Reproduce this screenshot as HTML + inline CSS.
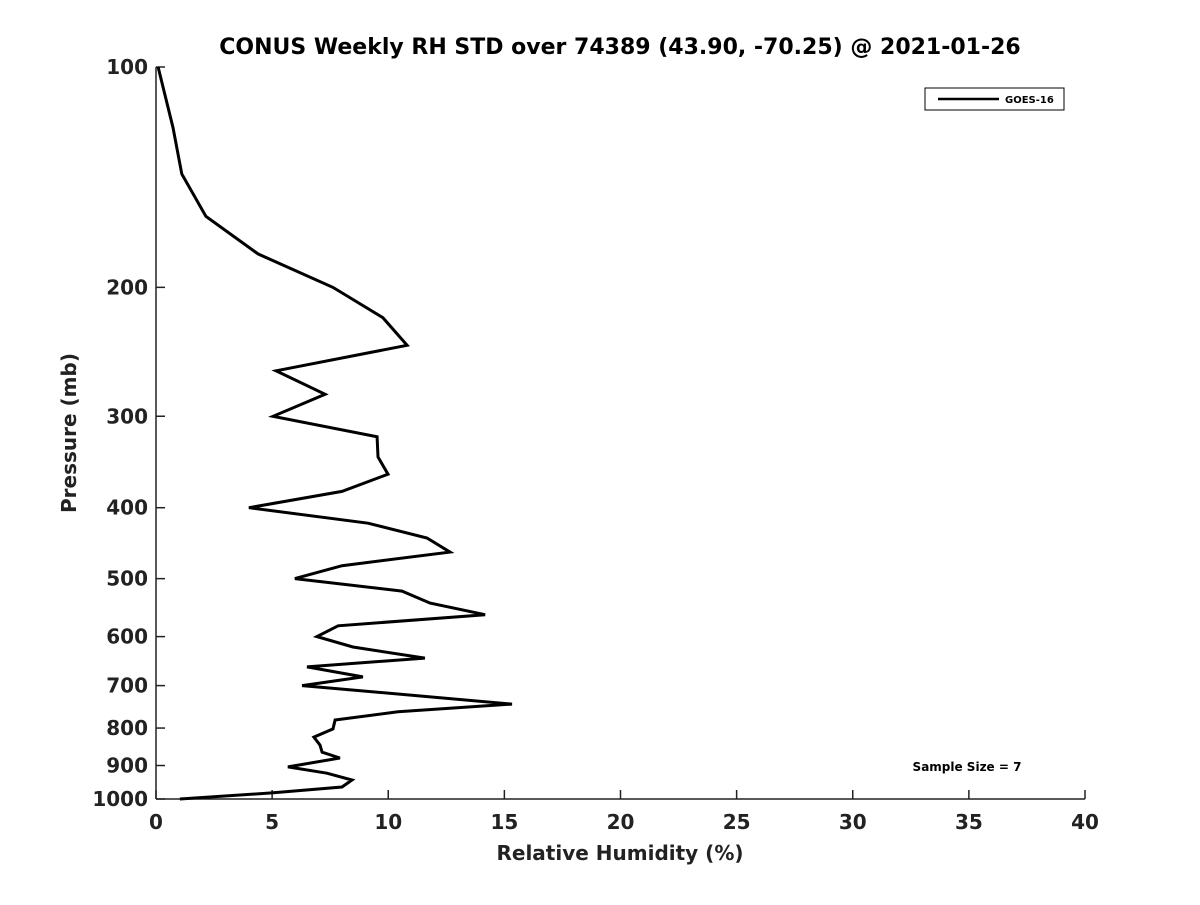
<!DOCTYPE html>
<html><head><meta charset="utf-8"><style>
body{margin:0;background:#fff;font-family:"Liberation Sans","DejaVu Sans",sans-serif}
</style></head><body>
<svg id="chart" width="1200" height="900" xmlns="http://www.w3.org/2000/svg" font-family="DejaVu Sans, Liberation Sans, sans-serif">
<text x="620" y="54" text-anchor="middle" font-size="22" font-weight="bold">CONUS Weekly RH STD over 74389 (43.90, -70.25) @ 2021-01-26</text>
<g id="axes"></g>
<g id="series"></g>
<text x="620" y="860" text-anchor="middle" font-size="20" font-weight="bold" fill="#222">Relative Humidity (%)</text>
<text transform="translate(76,433) rotate(-90)" text-anchor="middle" font-size="20" font-weight="bold" fill="#222">Pressure (mb)</text>
<g>
<rect x="925" y="88" width="139" height="22" fill="#fff" stroke="#000" stroke-width="1"/>
<line x1="938" y1="99" x2="999" y2="99" stroke="#000" stroke-width="2.5"/>
<text x="1005" y="103" font-size="10" font-weight="bold">GOES-16</text>
</g>
<text x="967" y="771" text-anchor="middle" font-size="12" font-weight="bold">Sample Size = 7</text>
</svg>
<script>
const xTicks=[0,5,10,15,20,25,30,35,40];
const yTicks=[100,200,300,400,500,600,700,800,900,1000];
const rhStd=[0.09,0.73,1.11,2.15,4.39,7.62,9.77,10.81,5.17,7.28,5.04,9.52,9.56,9.99,8.01,4.00,9.13,11.67,12.66,8.01,5.98,10.59,11.80,14.17,7.84,6.93,8.48,11.58,6.50,8.91,6.29,15.33,10.42,7.71,7.62,6.80,7.06,7.15,7.92,5.68,7.36,8.44,8.01,4.99,1.03];
const pressure=[100,121,140,160,180,200,220,240,260,280,300,320,341,360,380,400,420,440,460,480,500,520,540,560,580,600,620,642,660,681,700,742,760,780,802,823,844,863,879,904,922,942,963,981,1000];
const NS='http://www.w3.org/2000/svg';
const X0=156,X1=1085,Y0=67,Y1=799;
function sx(v){return X0+(v-0)/(40-0)*(X1-X0);}
function sy(p){return Y0+(Math.log10(p)-2)*(Y1-Y0);}
function mk(t,a,parent){const e=document.createElementNS(NS,t);for(const k in a)e.setAttribute(k,a[k]);parent.appendChild(e);return e;}
const ax=document.getElementById('axes');
let l=mk('line',{x1:X0,y1:Y0,x2:X0,y2:Y1,stroke:'#222','stroke-width':1.5},ax);


l=mk('line',{x1:X0,y1:Y1,x2:X1,y2:Y1,stroke:'#222','stroke-width':1.5},ax);


xTicks.forEach(v=>{
 const t=mk('line',{x1:sx(v),y1:Y1,x2:sx(v),y2:Y1-9,stroke:'#222','stroke-width':1.5},ax);
 
 
 const tx=mk('text',{x:sx(v),y:Y1+30,'text-anchor':'middle','font-size':20,'font-weight':'bold',fill:'#222'},ax);
 tx.textContent=v;
 
 
});
yTicks.forEach(p=>{
 const t=mk('line',{x1:X0,y1:sy(p),x2:X0+9,y2:sy(p),stroke:'#222','stroke-width':1.5},ax);
 
 
 const tx=mk('text',{x:X0-8,y:sy(p)+7,'text-anchor':'end','font-size':20,'font-weight':'bold',fill:'#222'},ax);
 tx.textContent=p;
 
 
});
const pts=rhStd.map((v,i)=>sx(v).toFixed(1)+','+sy(pressure[i]).toFixed(1)).join(' ');
const line=mk('polyline',{points:pts,fill:'none',stroke:'#000','stroke-width':3,'stroke-linejoin':'miter'},document.getElementById('series'));


</script>
</body></html>
